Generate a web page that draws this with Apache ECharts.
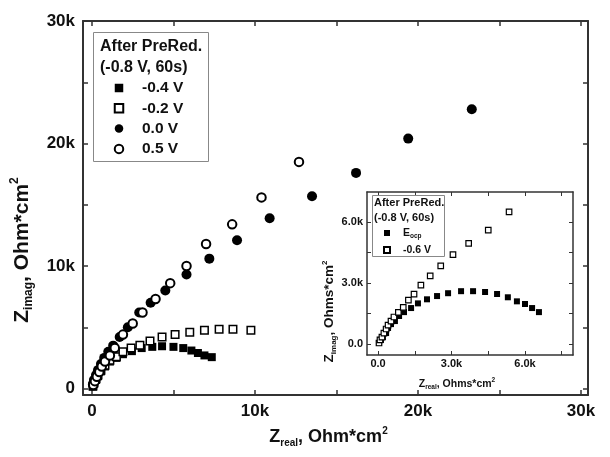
<!DOCTYPE html>
<html>
<head>
<meta charset="utf-8">
<script src="https://cdn.jsdelivr.net/npm/echarts@6/dist/echarts.min.js"></script>
<style>
  html, body { margin: 0; padding: 0; background: #fff; }
  #chart { width: 610px; height: 457px; }
</style>
</head>
<body>
<div id="chart"></div>
<script>
// main plot, [Zreal, Zimag] in Ohm*cm2
var minus04 = [[60,150],[120,400],[250,700],[370,1000],[550,1400],[800,1800],[1100,2200],[1500,2500],[1900,2800],[2450,3050],[3050,3300],[3700,3400],[4300,3450],[5000,3400],[5600,3300],[6100,3100],[6500,2900],[6900,2700],[7350,2560]];
var minus02 = [[60,200],[120,450],[250,800],[370,1100],[550,1500],[800,1900],[1100,2300],[1500,2600],[1900,3000],[2400,3300],[2940,3540],[3560,3870],[4300,4200],[5100,4400],[6000,4600],[6900,4760],[7800,4840],[8650,4840],[9750,4760]];
var zero00 = [[60,350],[120,700],[250,1100],[370,1500],[550,2000],[750,2500],[1000,3000],[1300,3500],[1700,4200],[2200,5000],[2900,6200],[3600,7000],[4500,8000],[5800,9300],[7200,10600],[8900,12100],[10900,13900],[13500,15700],[16200,17600],[19400,20400],[23300,22800]];
var plus05 = [[80,280],[180,600],[300,950],[450,1350],[600,1800],[800,2200],[1100,2700],[1400,3300],[1900,4400],[2500,5300],[3100,6200],[3900,7300],[4800,8600],[5800,10000],[7000,11800],[8600,13400],[10400,15600],[12700,18500]];

// inset
var eocp = [[40,50],[120,200],[200,340],[330,540],[410,790],[530,980],[690,1130],[860,1380],[1060,1570],[1350,1770],[1630,2000],[2000,2200],[2410,2360],[2860,2500],[3390,2600],[3880,2600],[4370,2560],[4860,2460],[5300,2300],[5670,2100],[6000,1970],[6290,1770],[6570,1570]];
var minus06 = [[40,50],[80,200],[160,340],[240,540],[330,740],[410,930],[530,1130],[650,1330],[830,1560],[1030,1800],[1240,2160],[1470,2460],[1750,2900],[2130,3350],[2560,3850],[3060,4400],[3700,4950],[4500,5600],[5350,6500]];

var mainLabels = [0, 10000, 20000, 30000];
var mainTicks = [0, 5000, 10000, 15000, 20000, 25000, 30000];
var insetLabels = [0, 3000, 6000];
var insetTicksX = [0, 1500, 3000, 4500, 6000, 7500];
var insetTicksY = [0, 1500, 3000, 4500, 6000];

var FONT = '"Liberation Sans", Arial, sans-serif';
var INK = '#111';

function kMain(v) { return v === 0 ? '0' : (v / 1000) + 'k'; }
function kInset(v) { return v === 0 ? '0.0' : (v / 1000).toFixed(1) + 'k'; }

// rich styles for axis titles with sub/superscripts
function richSet(size, sub, lh) {
    return {
        b: { fontSize: size, fontWeight: 'bold', color: INK, lineHeight: lh, fontFamily: FONT },
        s: { fontSize: sub, fontWeight: 'bold', color: INK, verticalAlign: 'bottom', fontFamily: FONT },
        p: { fontSize: sub, fontWeight: 'bold', color: INK, verticalAlign: 'top', fontFamily: FONT }
    };
}
var xMainRich = richSet(18, 10, 22);
var yMainRich = richSet(21, 12, 26);
var xInsetRich = richSet(10.5, 6.5, 14);
var yInsetRich = richSet(13.5, 8, 17);

function frameAxis(opt) {
    var big = opt.big;
    var ax = {
        type: 'value',
        gridIndex: opt.grid,
        position: opt.position,
        min: opt.min,
        max: opt.max,
        splitLine: { show: false },
        axisLine: { show: true, onZero: false, lineStyle: { color: '#333', width: big ? 2 : 1.5 } },
        axisTick: { show: true, inside: true, length: big ? 5 : 4, customValues: opt.ticks,
                    lineStyle: { color: '#333', width: big ? 1.5 : 1 } },
        axisLabel: { show: !!opt.labels }
    };
    if (opt.labels) {
        ax.axisLabel = {
            show: true,
            customValues: opt.labels,
            formatter: big ? kMain : kInset,
            margin: opt.margin,
            fontSize: big ? 17 : 11,
            fontWeight: 'bold',
            color: INK,
            fontFamily: FONT
        };
    }
    if (opt.name) {
        ax.name = opt.name;
        ax.nameLocation = 'middle';
        ax.nameGap = opt.nameGap;
        ax.nameTextStyle = { rich: opt.rich, padding: opt.namePad };
    }
    return ax;
}

var chart = echarts.init(document.getElementById('chart'));

var option = {
    animation: false,
    textStyle: { fontFamily: FONT },
    grid: [
        { left: 83, top: 21, width: 505, height: 374 },
        { left: 367, top: 192, width: 206, height: 163, show: true, backgroundColor: '#fff', borderWidth: 0 }
    ],
    xAxis: [
        frameAxis({ grid: 0, position: 'bottom', min: -550, max: 30430, big: true, ticks: mainTicks, labels: mainLabels, margin: 8,
                    name: '{b|Z}{s|real}{b|, Ohm*cm}{p|2}', nameGap: 31, namePad: [0, 14, 0, 0], rich: xMainRich }),
        frameAxis({ grid: 0, position: 'top', min: -550, max: 30430, big: true, ticks: mainTicks }),
        frameAxis({ grid: 1, position: 'bottom', min: -450, max: 7960, ticks: insetTicksX, labels: insetLabels, margin: 3,
                    name: '{b|Z}{s|real}{b|, Ohms*cm}{p|2}', nameGap: 22, namePad: [0, 26, 0, 0], rich: xInsetRich }),
        frameAxis({ grid: 1, position: 'top', min: -450, max: 7960, ticks: insetTicksX })
    ],
    yAxis: [
        frameAxis({ grid: 0, position: 'left', min: -530, max: 30000, big: true, ticks: mainTicks, labels: mainLabels, margin: 8,
                    name: '{b|Z}{s|imag}{b|, Ohm*cm}{p|2}', nameGap: 48, namePad: [0, 84, 0, 0], rich: yMainRich }),
        frameAxis({ grid: 0, position: 'right', min: -530, max: 30000, big: true, ticks: mainTicks }),
        frameAxis({ grid: 1, position: 'left', min: -540, max: 7480, ticks: insetTicksY, labels: insetLabels, margin: 4,
                    name: '{b|Z}{s|imag}{b|, Ohms*cm}{p|2}', nameGap: 29, namePad: [0, 76, 0, 0], rich: yInsetRich }),
        frameAxis({ grid: 1, position: 'right', min: -540, max: 7480, ticks: insetTicksY })
    ],
    legend: [
        {
            data: ['-0.4 V', '-0.2 V', '0.0 V', '0.5 V'],
            orient: 'vertical',
            left: 113.75, top: 80,
            padding: 0,
            itemWidth: 8.5, itemHeight: 8.5,
            itemGap: 4.3,
            selectedMode: false,
            textStyle: { fontSize: 15.5, fontWeight: 'bold', color: INK, lineHeight: 16, padding: [0, 0, 0, 13.75], fontFamily: FONT }
        },
        {
            data: ['Eocp', '-0.6 V'],
            orient: 'vertical',
            left: 383, top: 226,
            padding: 0,
            itemWidth: 6, itemHeight: 6,
            itemGap: 3,
            selectedMode: false,
            formatter: function (name) {
                return name === 'Eocp' ? '{b|E}{s|ocp}' : '{b|' + name + '}';
            },
            textStyle: { fontSize: 10.5, fontWeight: 'bold', color: INK, lineHeight: 14, padding: [0, 0, 0, 8], rich: xInsetRich }
        }
    ],
    graphic: [
        { type: 'rect', z: 100, shape: { x: 93.5, y: 32.5, width: 115, height: 129 },
          style: { fill: 'none', stroke: '#888', lineWidth: 1 } },
        { type: 'text', z: 100, style: { text: 'After PreRed.', x: 100, y: 47, verticalAlign: 'middle',
          font: 'bold 16px ' + FONT, fill: INK } },
        { type: 'text', z: 100, style: { text: '(-0.8 V, 60s)', x: 100, y: 68, verticalAlign: 'middle',
          font: 'bold 16px ' + FONT, fill: INK } },
        { type: 'rect', z: 100, shape: { x: 372.5, y: 195.5, width: 72, height: 61 },
          style: { fill: 'none', stroke: '#888', lineWidth: 1 } },
        { type: 'text', z: 100, style: { text: 'After PreRed.', x: 374, y: 203, verticalAlign: 'middle',
          font: 'bold 11px ' + FONT, fill: INK } },
        { type: 'text', z: 100, style: { text: '(-0.8 V, 60s)', x: 374, y: 218, verticalAlign: 'middle',
          font: 'bold 11px ' + FONT, fill: INK } }
    ],
    series: [
        { name: '-0.4 V', type: 'scatter', xAxisIndex: 0, yAxisIndex: 0, data: minus04,
          symbol: 'rect', symbolSize: 8, itemStyle: { color: '#000', opacity: 1 } },
        { name: '-0.2 V', type: 'scatter', xAxisIndex: 0, yAxisIndex: 0, data: minus02,
          symbol: 'rect', symbolSize: 7.5, itemStyle: { color: '#fff', borderColor: '#000', borderWidth: 1.5, opacity: 1 } },
        { name: '0.0 V', type: 'scatter', xAxisIndex: 0, yAxisIndex: 0, data: zero00,
          symbol: 'circle', symbolSize: 10, itemStyle: { color: '#000', opacity: 1 } },
        { name: '0.5 V', type: 'scatter', xAxisIndex: 0, yAxisIndex: 0, data: plus05,
          symbol: 'circle', symbolSize: 8.5, itemStyle: { color: '#fff', borderColor: '#000', borderWidth: 2, opacity: 1 } },
        { name: 'Eocp', type: 'scatter', xAxisIndex: 2, yAxisIndex: 2, data: eocp,
          symbol: 'rect', symbolSize: 6, itemStyle: { color: '#000', opacity: 1 } },
        { name: '-0.6 V', type: 'scatter', xAxisIndex: 2, yAxisIndex: 2, data: minus06,
          symbol: 'rect', symbolSize: 5.5, itemStyle: { color: '#fff', borderColor: '#000', borderWidth: 1.2, opacity: 1 } }
    ]
};

chart.setOption(option);
</script>
</body>
</html>
